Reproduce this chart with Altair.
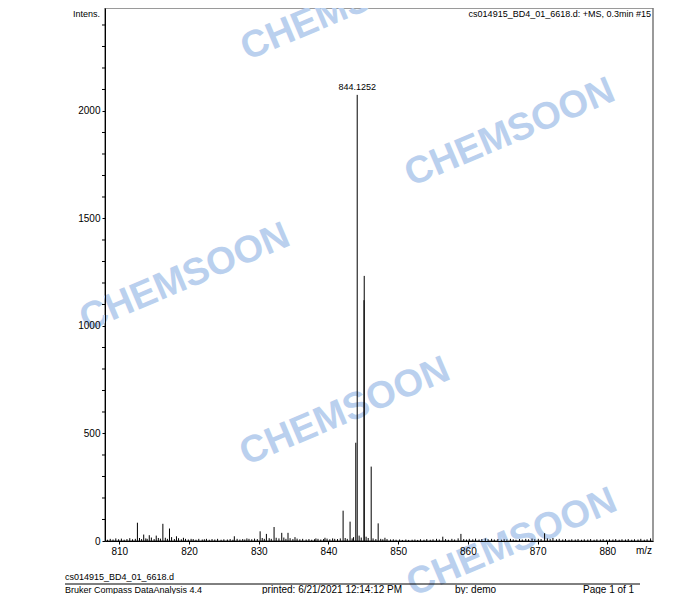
import altair as alt
import pandas as pd

# ---------------- data ----------------
peak_mz = [812.6, 813.5, 814.3, 815.3, 816.25, 817.2, 818.2, 819.2, 820.3, 822.5,
           826.5, 828.3, 830.2, 831.1, 832.2, 833.3, 834.2, 835.2, 838.2, 839.5,
           840.6, 842.1, 843.1, 843.92, 844.1252, 845.1, 845.13, 846.13, 847.13,
           848.1, 856.4, 859.0, 871.0]
peak_int = [85, 30, 27, 25, 80, 58, 22, 15, 10, 10,
            22, 12, 45, 33, 65, 38, 38, 18, 12, 15,
            12, 141, 90, 457, 2075, 1120, 1233, 346, 82,
            15, 20, 33, 36]

noise_peaks = [
    (808.3, 6), (808.7, 10), (809.1, 7), (809.5, 12), (809.9, 8), (810.3, 11), (810.7, 6),
    (811.1, 9), (811.5, 13), (811.9, 8), (812.3, 10), (812.9, 14), (813.2, 9), (813.8, 12),
    (814.0, 10), (814.6, 16), (815.0, 9), (815.6, 14), (815.9, 11), (816.6, 15), (816.9, 10),
    (817.5, 18), (817.9, 9), (818.5, 13), (818.9, 8), (819.5, 10), (819.9, 7), (820.6, 9),
    (821.0, 6), (821.4, 10), (821.9, 7), (822.2, 8), (822.9, 6), (823.3, 9), (823.7, 7),
    (824.1, 10), (824.6, 6), (825.0, 8), (825.5, 7), (825.9, 9), (826.3, 6), (826.9, 10),
    (827.3, 7), (827.7, 9), (828.0, 7), (828.6, 10), (829.0, 8), (829.4, 11), (829.8, 9),
    (830.5, 14), (830.8, 10), (831.5, 13), (831.8, 10), (832.5, 15), (832.9, 12), (833.6, 16),
    (833.9, 10), (834.5, 13), (834.9, 9), (835.5, 11), (835.9, 8), (836.3, 10), (836.8, 7),
    (837.2, 9), (837.6, 6), (838.0, 8), (838.5, 10), (838.9, 7), (839.3, 9), (839.8, 11),
    (840.2, 8), (840.9, 10), (841.3, 9), (841.7, 12), (842.4, 14), (842.7, 10), (843.4, 12),
    (843.6, 18), (844.4, 25), (844.7, 16), (845.4, 20), (845.7, 14), (846.4, 12), (846.8, 9),
    (847.5, 10), (847.8, 8), (848.4, 9), (848.9, 7), (849.3, 8), (849.7, 6), (850.2, 7),
    (850.6, 5), (851.1, 7), (851.5, 5), (852.0, 6), (852.4, 7), (852.8, 5), (853.2, 8),
    (853.7, 6), (854.1, 9), (854.6, 6), (855.0, 8), (855.5, 10), (855.9, 7), (856.8, 9),
    (857.2, 6), (857.7, 10), (858.1, 7), (858.6, 12), (859.4, 9), (859.8, 7), (860.2, 10),
    (860.7, 8), (861.1, 11), (861.6, 7), (862.0, 9), (862.5, 12), (862.9, 8), (863.4, 10),
    (863.8, 7), (864.3, 9), (864.8, 6), (865.2, 8), (865.6, 7), (866.1, 10), (866.5, 8),
    (866.9, 6), (867.4, 9), (867.8, 7), (868.3, 10), (868.7, 8), (869.2, 11), (869.6, 8),
    (870.1, 10), (870.5, 9), (871.4, 12), (871.8, 9), (872.2, 14), (872.7, 8), (873.1, 10),
    (873.6, 7), (874.0, 9), (874.5, 6), (874.9, 8), (875.4, 7), (875.8, 9), (876.3, 6),
    (876.7, 8), (877.2, 7), (877.6, 9), (878.1, 6), (878.5, 8), (879.0, 7), (879.4, 9),
    (879.9, 6), (880.3, 8), (880.8, 7), (881.2, 9), (881.7, 6), (882.1, 8), (882.6, 7),
    (883.0, 9), (883.5, 6), (883.9, 8), (884.4, 7), (884.8, 10), (885.3, 6), (885.7, 8),
    (886.2, 12),
]

label_text = ["844.1252"]
label_mz = [844.1252]
label_int = [2075]

x_ticks = [810, 820, 830, 840, 850, 860, 870, 880]
y_major = [0, 500, 1000, 1500, 2000]
y_minor = [100, 200, 300, 400, 600, 700, 800, 900, 1100, 1200, 1300, 1400,
           1600, 1700, 1800, 1900, 2100, 2200, 2300, 2400]

title_text = "cs014915_BD4_01_6618.d: +MS, 0.3min #15"
footer_file = "cs014915_BD4_01_6618.d"
footer_app = "Bruker Compass DataAnalysis 4.4"
footer_printed = "printed:   6/21/2021 12:14:12 PM"
footer_by = "by:   demo"
footer_page = "Page 1 of 1"
watermark = "CHEMSOON"

# ---------------- chart ----------------
FONT = "Liberation Sans"
X_DOMAIN = [807.95, 886.55]
Y_DOMAIN = [0, 2479]

sticks = pd.DataFrame({"mz": peak_mz + [p[0] for p in noise_peaks],
                       "intensity": peak_int + [p[1] for p in noise_peaks]})
sticks["base"] = 0

xscale = alt.Scale(domain=X_DOMAIN, nice=False, zero=False)
yscale = alt.Scale(domain=Y_DOMAIN, nice=False)

xaxis = alt.Axis(values=x_ticks, title=None, tickSize=3, labelPadding=2,
                 format="d", labelFontSize=10, labelFont=FONT,
                 domainColor="black", tickColor="black", labelColor="black",
                 grid=False, zindex=1)
yaxis = alt.Axis(values=y_major, title=None, tickSize=3, labelPadding=2,
                 labelOverlap=False, format="d", labelFontSize=10,
                 labelFont=FONT, domainColor="black", tickColor="black",
                 labelColor="black", grid=False, zindex=1)

one = pd.DataFrame({"a": [0]})


def wm(x, y):
    return alt.Chart(one).mark_text(
        text=watermark, font=FONT, fontWeight="bold", fontSize=38,
        color="#bad0ee", angle=337, align="center", baseline="middle"
    ).encode(x=alt.value(x), y=alt.value(y))


def label(txt, x, y, size=10, align="left", weight="normal"):
    return alt.Chart(one).mark_text(
        text=txt, font=FONT, fontSize=size, color="black", align=align,
        baseline="middle", fontWeight=weight
    ).encode(x=alt.value(x), y=alt.value(y))


watermarks = [wm(241, -1), wm(405, 125), wm(80, 270), wm(240, 404), wm(407, 535)]

rules = alt.Chart(sticks).mark_rule(color="black", strokeWidth=1, clip=True).encode(
    x=alt.X("mz:Q", scale=xscale, axis=xaxis),
    y=alt.Y("intensity:Q", scale=yscale, axis=yaxis), y2="base:Q")

minor_ticks = alt.Chart(pd.DataFrame({"intensity": y_minor})).mark_rule(
    color="black", strokeWidth=1).encode(
    y=alt.Y("intensity:Q", scale=yscale, axis=yaxis), x=alt.value(-3), x2=alt.value(0))

peak_label = alt.Chart(pd.DataFrame({"t": label_text, "mz": label_mz,
                                     "intensity": label_int})).mark_text(
    font=FONT, fontSize=9, color="black", baseline="bottom", dy=-3
).encode(x=alt.X("mz:Q", scale=xscale, axis=xaxis),
         y=alt.Y("intensity:Q", scale=yscale, axis=yaxis), text="t:N")

texts = [
    label("Intens.", -5, 6, size=9, align="right"),
    label(title_text, 546, 6, size=9, align="right"),
    label("m/z", 539, 543, size=10, align="center"),
    label(footer_file, -40, 569, size=9),
    label(footer_app, -40, 582, size=9),
    label(footer_printed, 157, 582, size=10),
    label(footer_by, 350, 582, size=10),
    label(footer_page, 478, 582, size=10),
]

footer_line = alt.Chart(one).mark_rule(color="black", strokeWidth=1).encode(
    x=alt.value(-40), x2=alt.value(535), y=alt.value(576))

chart = alt.layer(*watermarks, rules, minor_ticks, peak_label, *texts, footer_line).properties(
    width=548, height=533,
    autosize=alt.AutoSizeParams(type="none"),
    padding={"left": 97, "top": 0, "right": 30, "bottom": 53},
).configure_view(stroke="#7a7a7a", strokeWidth=1.5)

chart.save("out.html", embed_options={"renderer": "svg", "actions": False})
